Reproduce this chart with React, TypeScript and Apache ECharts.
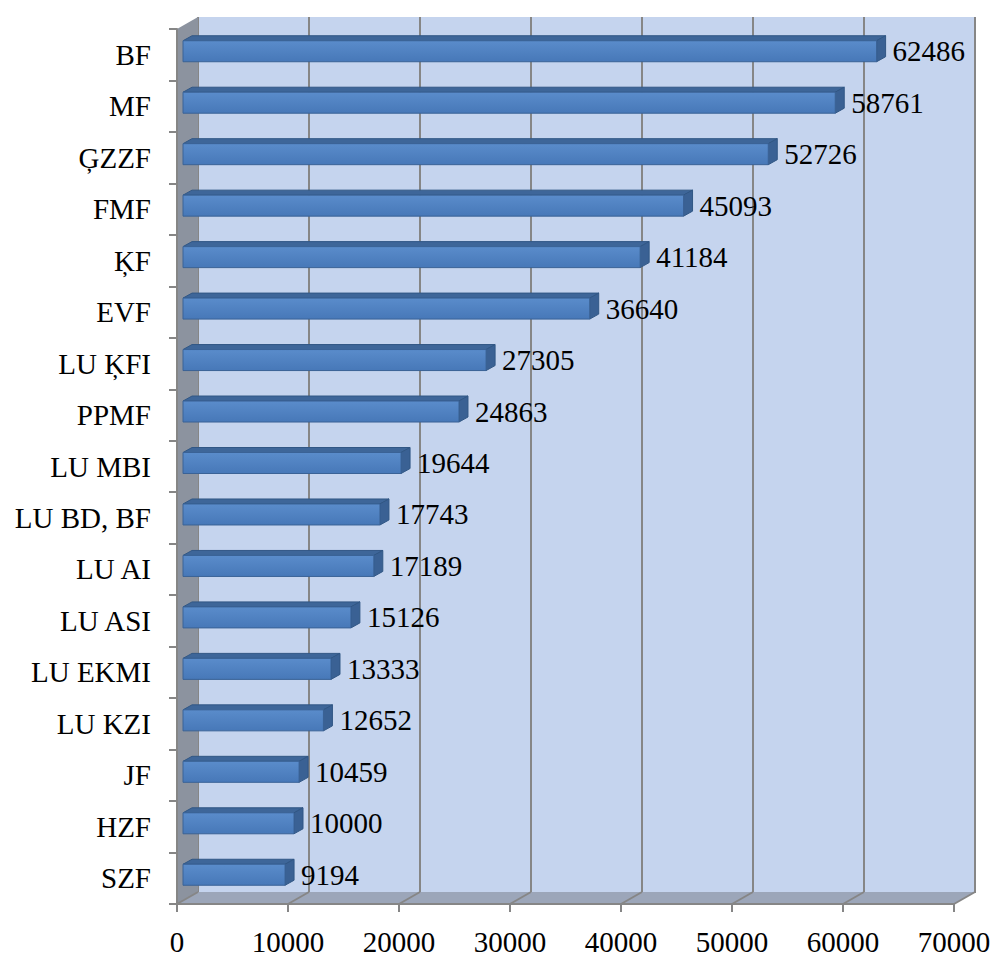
import React, { useEffect, useRef } from 'react';
import * as echarts from 'echarts';

const categories = ['BF', 'MF', 'ĢZZF', 'FMF', 'ĶF', 'EVF', 'LU ĶFI', 'PPMF', 'LU MBI', 'LU BD, BF', 'LU AI', 'LU ASI', 'LU EKMI', 'LU KZI', 'JF', 'HZF', 'SZF'];
const values = [62486, 58761, 52726, 45093, 41184, 36640, 27305, 24863, 19644, 17743, 17189, 15126, 13333, 12652, 10459, 10000, 9194];
const xMin = 0;
const xMax = 70000;
const xInterval = 10000;
const xTicks = [0, 10000, 20000, 30000, 40000, 50000, 60000, 70000];

const FONT = '"Liberation Serif", "Times New Roman", serif';
const FONT_SIZE = 29;
const DEPTH_X = 21;
const DEPTH_Y = -12;
const BAR_DX = 6;
const BAR_DY = -3.5;
const BAR_H = 21;
const BAR_DEPTH_X = 9;
const BAR_DEPTH_Y = -5;
const GRAY = '#868686';

export default function App() {
  const ref = useRef<HTMLDivElement>(null);
  useEffect(() => {
    if (!ref.current) return;
    const chart = echarts.init(ref.current, null, { renderer: 'svg' });
    const option: any = {
      animation: false,
      backgroundColor: '#ffffff',
      grid: [
        { left: 177, top: 29, width: 777, height: 876, show: false, containLabel: false },
        { left: 198, top: 17, width: 777, height: 876, show: true, backgroundColor: '#C5D4EE', borderWidth: 0, containLabel: false },
      ],
      xAxis: [
        {
          type: 'value', gridIndex: 0, min: xMin, max: xMax, interval: xInterval, z: 5,
          axisLine: { show: true, lineStyle: { color: GRAY, width: 2 } },
          axisTick: { show: true, length: 8, lineStyle: { color: GRAY, width: 2 } },
          axisLabel: { show: true, margin: 23, fontFamily: FONT, fontSize: FONT_SIZE, color: '#000', formatter: (v: number) => String(v) },
          splitLine: { show: false },
        },
        {
          type: 'value', gridIndex: 1, min: xMin, max: xMax, interval: xInterval,
          axisLine: { show: false }, axisTick: { show: false }, axisLabel: { show: false },
          splitLine: { show: true, lineStyle: { color: GRAY, width: 2 } },
        },
      ],
      yAxis: [
        {
          type: 'category', gridIndex: 0, data: categories, inverse: true, z: 5,
          axisLine: { show: true, lineStyle: { color: GRAY, width: 2 } },
          axisTick: { show: true, length: 8, lineStyle: { color: GRAY, width: 2 } },
          axisLabel: { show: true, margin: 26, fontFamily: FONT, fontSize: FONT_SIZE, color: '#000' },
          splitLine: { show: false },
        },
        {
          type: 'category', gridIndex: 1, data: categories, inverse: true, show: false,
        },
      ],
      series: [
        {
          type: 'custom', xAxisIndex: 0, yAxisIndex: 0, z: 1, clip: false, silent: true,
          data: [[0, 0]],
          encode: { x: 0, y: 1 },
          renderItem: (params: any, api: any) => {
            const cs = params.coordSys;
            const x = cs.x, y = cs.y, w = cs.width, h = cs.height;
            const children: any[] = [
              { type: 'polygon', shape: { points: [[x, y], [x + DEPTH_X, y + DEPTH_Y], [x + DEPTH_X, y + h + DEPTH_Y], [x, y + h]] }, style: { fill: '#8C939F' } },
              { type: 'polygon', shape: { points: [[x, y + h], [x + DEPTH_X, y + h + DEPTH_Y], [x + w + DEPTH_X, y + h + DEPTH_Y], [x + w, y + h]] }, style: { fill: '#9CA6B9' } },
            ];
            xTicks.forEach((v) => {
              const X = api.coord([v, 0])[0];
              children.push({ type: 'line', shape: { x1: X, y1: y + h, x2: X + DEPTH_X, y2: y + h + DEPTH_Y }, style: { stroke: GRAY, lineWidth: 2 } });
            });
            return { type: 'group', children };
          },
        },
        {
          type: 'custom', xAxisIndex: 0, yAxisIndex: 0, z: 3, clip: false,
          data: values.map((v, i) => [v, i]),
          encode: { x: 0, y: 1 },
          renderItem: (params: any, api: any) => {
            const val = api.value(0);
            const idx = api.value(1);
            const p0 = api.coord([0, idx]);
            const p1 = api.coord([val, idx]);
            const x0 = p0[0] + BAR_DX;
            const x1 = p1[0] + BAR_DX;
            const cy = p0[1] + BAR_DY;
            const yT = cy - BAR_H / 2;
            const yB = cy + BAR_H / 2;
            return {
              type: 'group',
              children: [
                { type: 'polygon', shape: { points: [[x0, yT], [x1, yT], [x1 + BAR_DEPTH_X, yT + BAR_DEPTH_Y], [x0 + BAR_DEPTH_X, yT + BAR_DEPTH_Y]] }, style: { fill: '#3E6699', stroke: '#315785', lineWidth: 1 } },
                { type: 'polygon', shape: { points: [[x1, yT], [x1 + BAR_DEPTH_X, yT + BAR_DEPTH_Y], [x1 + BAR_DEPTH_X, yB + BAR_DEPTH_Y], [x1, yB]] }, style: { fill: '#3A6194', stroke: '#315785', lineWidth: 1 } },
                {
                  type: 'rect', shape: { x: x0, y: yT, width: x1 - x0, height: yB - yT },
                  style: {
                    fill: new echarts.graphic.LinearGradient(0, 0, 0, 1, [
                      { offset: 0, color: '#5A8CCB' },
                      { offset: 1, color: '#4778B8' },
                    ]),
                    stroke: '#3A6296', lineWidth: 1,
                  },
                },
                { type: 'text', style: { text: String(val), x: x1 + BAR_DEPTH_X + 7, y: cy, align: 'left', verticalAlign: 'middle', font: `${FONT_SIZE}px ${FONT}`, fill: '#000' } },
              ],
            };
          },
        },
      ],
    };
    chart.setOption(option);
    return () => chart.dispose();
  }, []);
  return <div ref={ref} style={{ position: 'absolute', left: 0, top: 0, width: 995, height: 956 }} />;
}
